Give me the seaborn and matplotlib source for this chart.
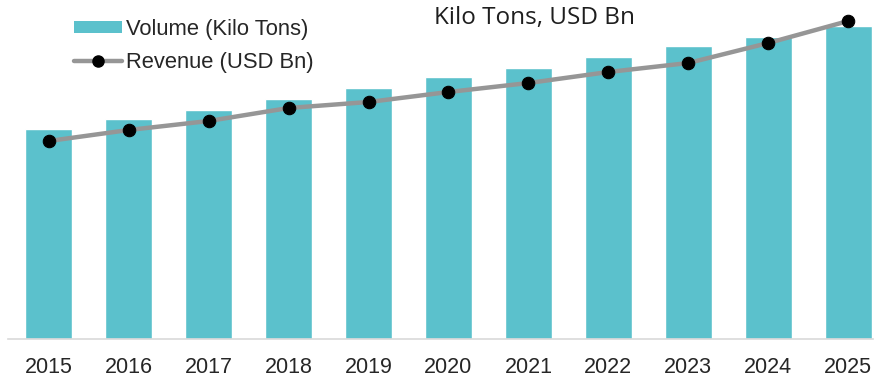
import matplotlib
matplotlib.use("Agg")
import matplotlib.pyplot as plt
from matplotlib.lines import Line2D
from matplotlib.patches import Patch
import seaborn as sns
import pandas as pd

years = ["2015", "2016", "2017", "2018", "2019", "2020",
         "2021", "2022", "2023", "2024", "2025"]
volume_kt = [105, 110, 114.5, 120, 125.5, 131, 135.5, 141, 146.5, 151, 156.5]
revenue_usd_bn = [19.8, 20.9, 21.8, 23.1, 23.7, 24.7, 25.6, 26.7, 27.6, 29.6, 31.8]

bar_color = "#5BC1CC"
line_color = "#969696"
text_color = "#262626"

sns.set_theme(style="white")
plt.rcParams["font.family"] = ["Liberation Sans", "DejaVu Sans"]

df = pd.DataFrame({"year": years, "volume": volume_kt, "revenue": revenue_usd_bn})

W, H = 879, 377
fig = plt.figure(figsize=(W / 100, H / 100), dpi=100)
ax = fig.add_axes([8 / W, (H - 339) / H, 865 / W, 329 / H])

sns.barplot(data=df, x="year", y="volume", color=bar_color, width=0.59,
            saturation=1, ax=ax)
ax.set_ylim(0, 164.5)
ax.set_xlim(-0.51, 10.31)

ax2 = ax.twinx()
sns.lineplot(data=df, x="year", y="revenue", color=line_color, linewidth=3.2,
             marker="o", markersize=9, markerfacecolor="black",
             markeredgecolor="black", ax=ax2)
ax2.set_ylim(0, 32.9)
ax2.set_xlim(-0.51, 10.31)

for a in (ax, ax2):
    a.set_xlabel("")
    a.set_ylabel("")
    a.set_yticks([])
    for s in a.spines.values():
        s.set_visible(False)
ax.spines["bottom"].set_visible(True)
ax.spines["bottom"].set_color("#d9d9d9")
ax.spines["bottom"].set_linewidth(1.2)

ax.tick_params(axis="x", length=0, pad=13, labelsize=15.5, labelcolor=text_color)

handles = [
    Patch(facecolor=bar_color, edgecolor="none"),
    Line2D([0], [0], color=line_color, linewidth=3.2, marker="o",
           markersize=8, markerfacecolor="black", markeredgecolor="black"),
]
fig.legend(handles, ["Volume (Kilo Tons)", "Revenue (USD Bn)"],
           loc="upper left", bbox_to_anchor=(54 / W, 1 + 1 / H),
           frameon=False, fontsize=15.8, handlelength=2.2, handleheight=0.5,
           handletextpad=0.2, labelspacing=0.55, labelcolor=text_color)

fig.text(535 / W, 1 - 18 / H, "Kilo Tons, USD Bn", ha="center", va="center",
         fontsize=17.5, color="#1e1e1e", family=["Open Sans", "DejaVu Sans"])

fig.savefig("out.png", dpi=100)
